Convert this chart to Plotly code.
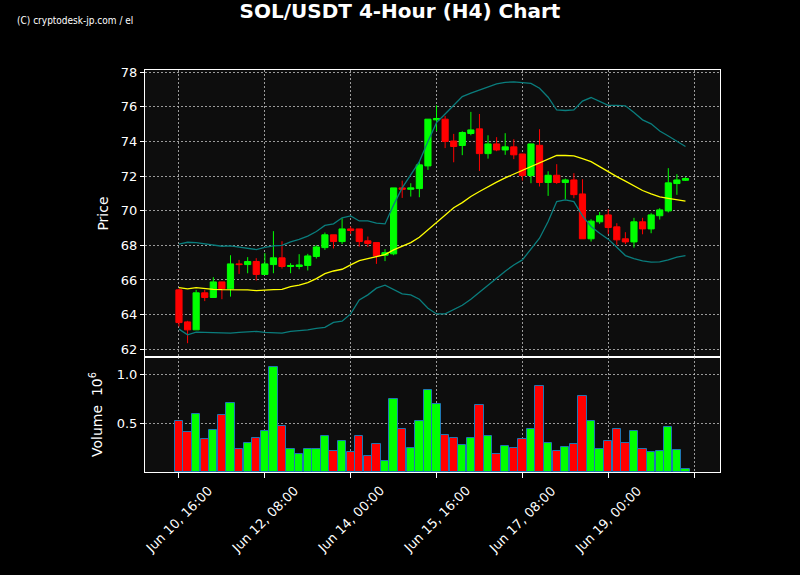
import pandas as pd
import plotly.graph_objects as go

# ---- data ----
start_time = "2024-06-10 16:00"
n_bars = 60
times = pd.date_range(start_time, periods=n_bars, freq="4h")

opens = [65.43, 63.58, 63.12, 65.26, 64.99, 65.89, 65.49, 66.93, 66.89, 67.07,
         66.32, 66.89, 67.28, 66.78, 66.78, 66.84, 67.36, 67.87, 68.61, 68.22,
         68.95, 68.95, 68.26, 68.16, 67.43, 67.51, 71.32, 71.24, 71.28, 72.59,
         75.25, 75.29, 74.03, 73.77, 74.46, 74.73, 73.30, 73.86, 73.51, 73.69,
         73.28, 72.03, 73.78, 71.63, 72.05, 71.63, 71.78, 70.97, 68.38, 69.36,
         69.76, 69.07, 68.38, 68.20, 69.36, 68.95, 69.71, 69.99, 71.57, 71.76]
highs = [65.50, 63.64, 65.43, 65.43, 66.16, 65.89, 67.43, 67.16, 67.32, 67.26,
         67.55, 68.82, 68.24, 66.97, 67.49, 67.51, 68.01, 68.74, 68.61, 69.57,
         69.09, 68.95, 68.51, 68.16, 67.78, 71.32, 71.74, 71.59, 72.84, 75.29,
         76.09, 75.48, 74.44, 74.59, 75.71, 75.59, 74.36, 74.25, 74.48, 74.13,
         73.28, 73.86, 74.71, 72.28, 72.69, 71.86, 72.17, 71.82, 69.51, 69.93,
         70.09, 69.28, 68.76, 69.59, 69.59, 69.86, 70.15, 72.46, 72.11, 71.94]
lows = [63.31, 62.35, 63.12, 64.78, 64.99, 64.89, 65.04, 66.35, 66.39, 65.97,
        66.32, 66.39, 66.66, 66.39, 66.62, 66.55, 67.24, 67.74, 67.82, 68.08,
        68.66, 67.93, 67.91, 66.93, 67.09, 67.43, 70.74, 70.82, 70.78, 72.36,
        74.59, 73.62, 72.80, 73.21, 74.36, 72.30, 73.01, 73.44, 73.23, 72.98,
        71.74, 71.59, 71.40, 70.86, 71.55, 70.67, 70.72, 68.38, 68.22, 69.24,
        68.66, 68.03, 68.07, 67.87, 68.64, 68.70, 69.49, 69.90, 70.92, 71.72]
closes = [63.54, 63.12, 65.26, 64.99, 65.89, 65.49, 66.93, 66.89, 67.07, 66.32,
          66.93, 67.28, 66.78, 66.84, 66.87, 67.39, 67.91, 68.61, 68.22, 68.95,
          68.86, 68.22, 68.11, 67.39, 67.58, 71.32, 71.24, 71.32, 72.65, 75.29,
          75.33, 74.00, 73.71, 74.52, 74.67, 73.30, 73.86, 73.51, 73.69, 73.23,
          72.03, 73.86, 71.63, 72.05, 71.63, 71.78, 70.93, 68.38, 69.40, 69.71,
          69.03, 68.32, 68.20, 69.36, 68.95, 69.76, 70.05, 71.61, 71.78, 71.86]
volumes_m = [0.527, 0.408, 0.592, 0.337, 0.435, 0.582, 0.711, 0.235, 0.296, 0.347,
             0.425, 1.082, 0.469, 0.231, 0.184, 0.231, 0.231, 0.367, 0.214, 0.316,
             0.201, 0.367, 0.163, 0.286, 0.112, 0.745, 0.439, 0.241, 0.527, 0.837,
             0.694, 0.378, 0.347, 0.276, 0.347, 0.684, 0.367, 0.184, 0.265, 0.245,
             0.337, 0.439, 0.878, 0.296, 0.214, 0.255, 0.286, 0.776, 0.520, 0.235,
             0.316, 0.439, 0.296, 0.418, 0.235, 0.204, 0.214, 0.459, 0.224, 0.030]
sma20 = [65.56, 65.49, 65.56, 65.50, 65.46, 65.44, 65.44, 65.43, 65.43, 65.39,
         65.43, 65.44, 65.46, 65.62, 65.70, 65.85, 66.08, 66.37, 66.52, 66.62,
         66.87, 67.12, 67.24, 67.36, 67.47, 67.74, 67.93, 68.16, 68.47, 68.90,
         69.36, 69.74, 70.17, 70.47, 70.82, 71.11, 71.40, 71.65, 71.90, 72.11,
         72.33, 72.55, 72.74, 72.98, 73.19, 73.19, 73.17, 73.01, 72.84, 72.55,
         72.24, 71.97, 71.71, 71.44, 71.17, 70.97, 70.80, 70.72, 70.63, 70.55]
bb_upper = [68.07, 68.18, 68.16, 68.10, 68.03, 67.95, 67.97, 67.91, 67.82, 67.76,
            67.89, 67.97, 68.00, 68.20, 68.34, 68.53, 68.80, 69.15, 69.24, 69.59,
            69.70, 69.41, 69.41, 69.28, 69.24, 70.34, 71.32, 72.07, 72.84, 74.00,
            75.09, 75.59, 76.11, 76.59, 76.79, 76.98, 77.17, 77.33, 77.42, 77.44,
            77.40, 77.36, 77.08, 76.56, 75.82, 75.79, 75.82, 76.33, 76.54, 76.33,
            76.09, 76.09, 76.06, 75.67, 75.25, 75.02, 74.61, 74.32, 74.00, 73.71]
bb_lower = [63.16, 62.83, 62.99, 62.97, 62.95, 62.93, 62.93, 62.97, 63.01, 63.03,
            62.97, 62.93, 62.93, 63.03, 63.06, 63.12, 63.20, 63.26, 63.55, 63.62,
            64.04, 64.85, 65.14, 65.53, 65.70, 65.43, 65.20, 65.14, 64.89, 64.37,
            64.04, 64.04, 64.27, 64.54, 64.89, 65.31, 65.70, 66.10, 66.51, 66.87,
            67.16, 67.78, 68.41, 69.38, 70.53, 70.63, 70.53, 69.70, 69.09, 68.70,
            68.36, 67.89, 67.41, 67.24, 67.10, 67.03, 67.05, 67.16, 67.32, 67.41]

x_tick_times = ["2024-06-10 16:00", "2024-06-12 08:00", "2024-06-14 00:00",
                "2024-06-15 16:00", "2024-06-17 08:00", "2024-06-19 00:00"]
x_tick_labels = ["Jun 10, 16:00", "Jun 12, 08:00", "Jun 14, 00:00",
                 "Jun 15, 16:00", "Jun 17, 08:00", "Jun 19, 00:00"]
x_extra_tick = "2024-06-20 16:00"   # tick mark shown without a label
price_ticks = [62, 64, 66, 68, 70, 72, 74, 76, 78]
vol_ticks = [0.5, 1.0]
vol_tick_labels = ["0.5", "1.0"]

# ---- styling ----
UP = "#00ff00"
DOWN = "#ff0000"
BB = "#0a7d7d"
GRID = "rgba(190,190,190,0.8)"
GRID_DASH = "2px,2px"
FONT = "DejaVu Sans"

volumes = [v * 1e6 for v in volumes_m]
vol_colors = [UP if c >= o else DOWN for o, c in zip(opens, closes)]
bar_ms = 4 * 3600 * 1000 * 0.97

fig = go.Figure()
fig.add_trace(go.Scatter(x=times, y=bb_upper, mode="lines",
                         line=dict(color=BB, width=1.3), xaxis="x", yaxis="y",
                         showlegend=False, hoverinfo="skip"))
fig.add_trace(go.Scatter(x=times, y=bb_lower, mode="lines",
                         line=dict(color=BB, width=1.3), xaxis="x", yaxis="y",
                         showlegend=False, hoverinfo="skip"))
fig.add_trace(go.Scatter(x=times, y=sma20, mode="lines",
                         line=dict(color="#ffff00", width=1.3), xaxis="x", yaxis="y",
                         showlegend=False, hoverinfo="skip"))
fig.add_trace(go.Candlestick(
    x=times, open=opens, high=highs, low=lows, close=closes,
    increasing=dict(line=dict(color=UP, width=1), fillcolor=UP),
    decreasing=dict(line=dict(color=DOWN, width=1), fillcolor=DOWN),
    whiskerwidth=0, xaxis="x", yaxis="y", showlegend=False))
fig.add_trace(go.Bar(x=times, y=volumes, width=bar_ms,
                     marker=dict(color=vol_colors, line=dict(color="#1f77b4", width=1)),
                     xaxis="x2", yaxis="y2", showlegend=False))

x_range = ["2024-06-10 00:10", "2024-06-21 04:05"]
split = 0.286
all_x_ticks = x_tick_times + [x_extra_tick]
common_x = dict(showline=True, linecolor="white", linewidth=1, mirror=True,
                showgrid=True, gridcolor=GRID, griddash=GRID_DASH, gridwidth=1,
                tickvals=all_x_ticks, range=x_range, zeroline=False,
                showticklabels=False)

# rotated tick labels centred under their ticks
annotations = [dict(text=lab, xref="x2", yref="paper", x=t, y=-0.118,
                    xanchor="center", yanchor="middle", textangle=-45,
                    showarrow=False, font=dict(size=13, color="white"))
               for t, lab in zip(x_tick_times, x_tick_labels)]
annotations.append(dict(text="(C) cryptodesk-jp.com / el", xref="paper", yref="paper",
                        x=-0.226, y=1.122, xanchor="left", yanchor="middle",
                        showarrow=False,
                        font=dict(family="Liberation Sans Narrow, DejaVu Sans Condensed, Liberation Sans, sans-serif",
                                  size=10, color="white")))

fig.update_layout(
    width=800, height=575,
    paper_bgcolor="#000000", plot_bgcolor="#0d0d0d",
    margin=dict(l=145, r=80, t=70, b=103),
    font=dict(family=FONT, color="white", size=13),
    boxgap=0.28, boxgroupgap=0,
    bargap=0,
    title=dict(text="<b>SOL/USDT 4-Hour (H4) Chart</b>", x=0.5, xanchor="center",
               y=0.981, yanchor="middle",
               font=dict(family=FONT, size=20, color="white")),
    xaxis=dict(domain=[0, 1], anchor="y", matches="x2", ticks="",
               rangeslider=dict(visible=False), **common_x),
    xaxis2=dict(domain=[0, 1], anchor="y2", ticks="outside", ticklen=5,
                tickcolor="white", **common_x),
    yaxis=dict(domain=[split, 1], anchor="x", range=[61.55, 78.13],
               tickvals=price_ticks, ticks="outside", ticklen=4, tickcolor="white",
               showline=True, linecolor="white", mirror=True,
               showgrid=True, gridcolor=GRID, griddash=GRID_DASH, zeroline=False,
               title=dict(text="Price", font=dict(size=14), standoff=8)),
    yaxis2=dict(domain=[0, split], anchor="x2", range=[0, 1.18e6],
                tickvals=[v * 1e6 for v in vol_ticks], ticktext=vol_tick_labels,
                ticks="outside", ticklen=4, tickcolor="white",
                showline=True, linecolor="white", mirror=True,
                showgrid=True, gridcolor=GRID, griddash=GRID_DASH, zeroline=False,
                title=dict(text="Volume  10<sup>6</sup>", font=dict(size=14), standoff=10)),
    annotations=annotations,
)

fig.write_html("out.html", config={"displayModeBar": False},
               post_script="document.body.style.margin='0';"
                           "document.body.style.background='#000';")
